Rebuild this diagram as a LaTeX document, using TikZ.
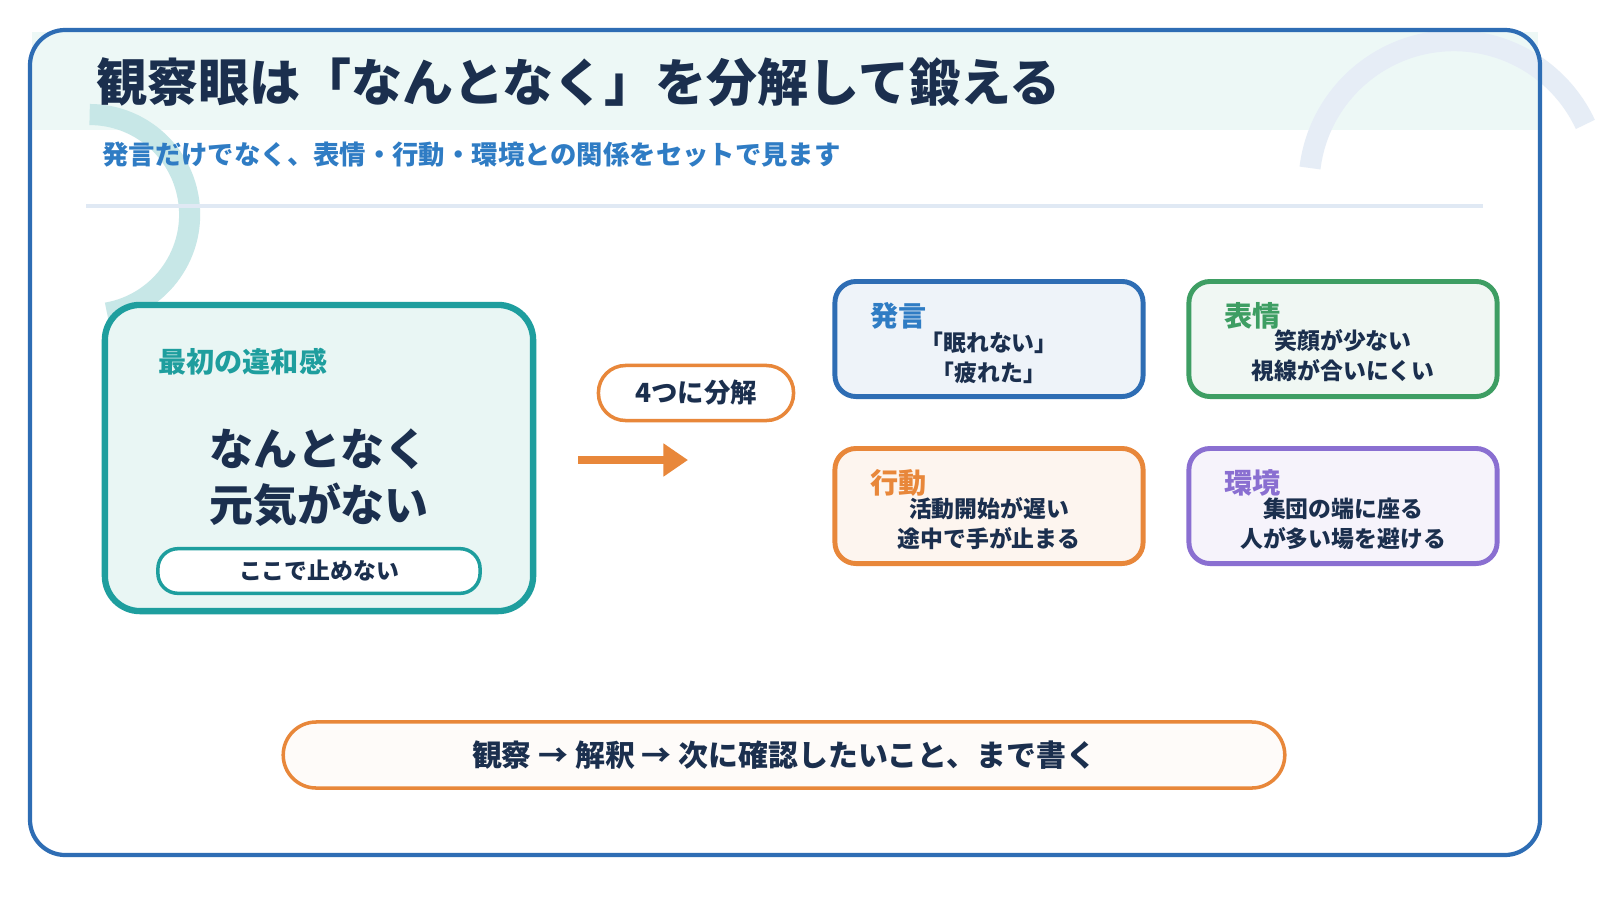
\documentclass[tikz,border=0pt]{standalone}
\usepackage{fontspec}
\setmainfont{Noto Sans CJK JP}
\usetikzlibrary{positioning, arrows.meta}
\definecolor{navy}{HTML}{1B2F4E}
\definecolor{frameblue}{HTML}{2E6DB4}
\definecolor{subblue}{HTML}{2F7CC4}
\definecolor{teal}{HTML}{1E9E9E}
\definecolor{tealbg}{HTML}{E9F6F4}
\definecolor{orng}{HTML}{E8873A}
\definecolor{grn}{HTML}{3E9E63}
\definecolor{purp}{HTML}{8A6FD1}
\tikzset{
  card/.style={draw, line width=1.4pt, rounded corners=6pt, minimum width=3.08cm, minimum height=1.15cm},
  tag/.style={font=\fontsize{8}{9}\selectfont\bfseries, anchor=west},
  body/.style={font=\fontsize{6.5}{8.5}\selectfont\bfseries, text=navy, align=center},
  pill/.style={draw, line width=1pt, rounded corners=0.2cm, fill=white}
}
\begin{document}
\begin{tikzpicture}[x=0.01cm, y=-0.01cm]
\useasboundingbox (0,0) rectangle (1600,900);
\fill [white] (0,0) rectangle (1600,900);

% Frame and header
\fill [tealbg!80] (32,32) rectangle (1538,130);
\draw [teal!25, line width=6pt] (107,313) arc (80:-90:100);
\draw [frameblue!12, line width=6pt] (1310,168) arc (-173:-25:145);
\draw [frameblue, line width=1.2pt, rounded corners=10pt] (30,30) rectangle (1540,855);
\node [anchor=west, text=navy, font=\fontsize{14.5}{16}\selectfont\bfseries] (title) at (84,82) {観察眼は「なんとなく」を分解して鍛える};
\node [anchor=west, text=subblue, font=\fontsize{7.5}{9}\selectfont\bfseries] (sub) at (90,155) {発言だけでなく、表情・行動・環境との関係をセットで見ます};
\draw [frameblue!15, line width=1.2pt] (86,206) -- (1483,206);

% Left box
\node [card, draw=teal, fill=tealbg, line width=1.8pt, rounded corners=10pt, minimum width=4.28cm, minimum height=3.06cm] (start) at (319,458) {};
\node [tag, text=teal] (startlbl) at (146,362) {最初の違和感};
\node [font=\fontsize{12.5}{16}\selectfont\bfseries, text=navy, align=center] (vague) at (319,478) {なんとなく\\元気がない};
\node [pill, draw=teal, minimum width=3.22cm, minimum height=0.42cm, font=\fontsize{6.5}{8}\selectfont\bfseries, text=navy] (stop) at (319,571) {ここで止めない};

% Split
\node [pill, draw=orng, rounded corners=0.27cm, minimum width=1.95cm, minimum height=0.55cm, font=\fontsize{7.5}{9}\selectfont\bfseries, text=navy] (split) at (696,393) {4つに分解};
\coordinate (arrA) at (578,460);
\coordinate (arrB) at (688,460);
\draw [orng, line width=2.5pt, -{Triangle[length=7pt,width=9pt]}] (arrA) -- (arrB);

% Cards
\node [card, draw=frameblue, fill=frameblue!8] (speech) at (989,339) {};
\node [tag, text=subblue] at (858,316) {発言};
\node [body] at (989,358) {「眠れない」\\「疲れた」};
\node [card, draw=grn, fill=grn!8] (face) at (1343,339) {};
\node [tag, text=grn] at (1212,316) {表情};
\node [body] at (1343,356) {笑顔が少ない\\視線が合いにくい};
\node [card, draw=orng, fill=orng!8] (act) at (989,506) {};
\node [tag, text=orng] at (858,483) {行動};
\node [body] at (989,524) {活動開始が遅い\\途中で手が止まる};
\node [card, draw=purp, fill=purp!8] (env) at (1343,506) {};
\node [tag, text=purp] at (1212,483) {環境};
\node [body] at (1343,524) {集団の端に座る\\人が多い場を避ける};

% Bottom
\node [pill, draw=orng, fill=orng!3, rounded corners=0.33cm, minimum width=10.01cm, minimum height=0.66cm, font=\fontsize{8.5}{10}\selectfont\bfseries, text=navy] (flow) at (784,755) {観察 → 解釈 → 次に確認したいこと、まで書く};
\end{tikzpicture}
\end{document}
